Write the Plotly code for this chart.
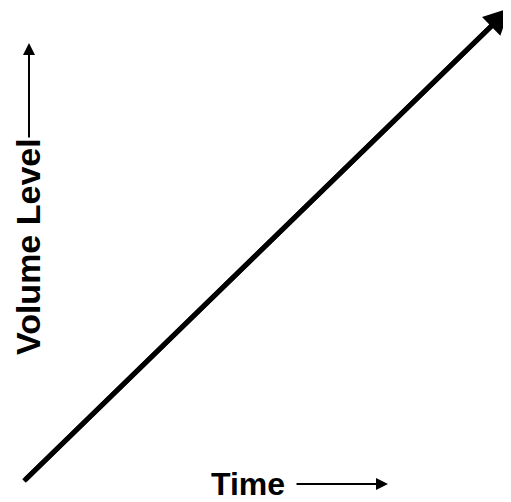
import plotly.graph_objects as go

# Data: a steadily rising volume level over time
time = [0, 100]
volume = [0, 100]

x_title = "Time"
y_title = "Volume Level"

# the page body adds an 8px margin, so the figure is drawn 8px smaller
OFF = 8
W, H = 511 - OFF, 502 - OFF
FONT = "Liberation Sans, Arial, sans-serif"


def px(x):
    return (x - OFF) / W


def py(y):
    return 1 - (y - OFF) / H


fig = go.Figure()
fig.add_trace(go.Scatter(
    x=time, y=volume, mode="lines",
    line=dict(color="black", width=5),
    hoverinfo="skip", showlegend=False,
))

annotations = [
    # arrowhead at the end of the data line
    dict(x=time[-1], y=volume[-1], ax=time[0], ay=volume[0],
         xref="x", yref="y", axref="x", ayref="y",
         text="", showarrow=True, arrowhead=2, arrowsize=1.05,
         arrowwidth=5, arrowcolor="black", standoff=0),
    # x-axis label
    dict(x=px(248), y=py(484), xref="paper", yref="paper",
         text=f"<b>{x_title}</b>", showarrow=False,
         xanchor="center", yanchor="middle",
         font=dict(family=FONT, size=32, color="black")),
    dict(x=px(388), y=py(484), ax=-93, ay=0, xref="paper", yref="paper",
         text="", showarrow=True, arrowhead=2, arrowsize=1.2,
         arrowwidth=2, arrowcolor="black", standoff=0),
    # y-axis label
    dict(x=px(28), y=py(247), xref="paper", yref="paper",
         text=f"<b>{y_title}</b>", showarrow=False, textangle=-90,
         xanchor="center", yanchor="middle",
         font=dict(family=FONT, size=34, color="black")),
    dict(x=px(29), y=py(43), ax=0, ay=96, xref="paper", yref="paper",
         text="", showarrow=True, arrowhead=2, arrowsize=1.2,
         arrowwidth=2, arrowcolor="black", standoff=0),
]

# map data so that (0,0) sits at pixel (24,481) and (100,100) at (510,8)
x0p, y0p, x1p, y1p = 24 - OFF, 481 - OFF, 510 - OFF, 8 - OFF
sx = (x1p - x0p) / 100
sy = (y0p - y1p) / 100
xr = [-x0p / sx, (W - x0p) / sx]
yr = [-(H - y0p) / sy, 100 + y1p / sy]

fig.update_layout(
    width=W, height=H,
    margin=dict(l=0, r=0, t=0, b=0),
    paper_bgcolor="white", plot_bgcolor="white",
    xaxis=dict(range=xr, visible=False, fixedrange=True),
    yaxis=dict(range=yr, visible=False, fixedrange=True),
    annotations=annotations,
    showlegend=False,
)

fig.write_html("out.html", config=dict(displayModeBar=False))
